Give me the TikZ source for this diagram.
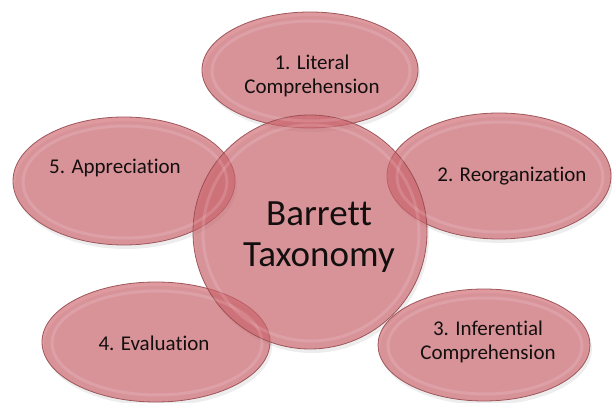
\documentclass[tikz,border=0pt]{standalone}
\usepackage{fontspec}
\setmainfont{Carlito}[Ligatures={NoCommon}]
\usetikzlibrary{shapes.geometric}
\definecolor{petal}{RGB}{205,100,108}
\definecolor{rim}{RGB}{150,75,80}
\definecolor{ink}{RGB}{20,15,15}
\tikzset{
  bubble/.style={ellipse, inner sep=0pt, fill=petal, fill opacity=0.65,
                 draw=rim, draw opacity=0.9, line width=0.8pt},
  gloss/.style={ellipse, inner sep=0pt, draw=white, draw opacity=0.13,
                line width=3pt},
  shade/.style={ellipse, inner sep=0pt, fill=black, fill opacity=0.07},
  small/.style={text=ink, align=center, font=\fontsize{21}{24}\selectfont},
  big/.style={text=ink, align=center, font=\fontsize{37}{41}\selectfont},
}
\begin{document}
\begin{tikzpicture}[x=1pt,y=1pt]
\useasboundingbox (0,0) rectangle (612,403);
\fill[white] (0,0) rectangle (612,403);

% soft drop shadows
\node[shade, minimum width=216, minimum height=116] at (312,329) {};
\node[shade, minimum width=224, minimum height=126] at (501,223) {};
\node[shade, minimum width=212, minimum height=112] at (486,54) {};
\node[shade, minimum width=228, minimum height=120] at (158,57) {};
\node[shade, minimum width=222, minimum height=128] at (126,218) {};
\node[shade, circle, minimum size=234] at (312,167) {};

% outer bubbles
\node[bubble, minimum width=216, minimum height=116] (e1) at (310,333) {};
\node[bubble, minimum width=224, minimum height=126] (e2) at (499,227) {};
\node[bubble, minimum width=212, minimum height=112] (e3) at (484,58) {};
\node[bubble, minimum width=228, minimum height=120] (e4) at (156,61) {};
\node[bubble, minimum width=222, minimum height=128] (e5) at (124,222) {};

% central bubble
\node[bubble, circle, minimum size=234] (c) at (310,171) {};

% glossy inner rims
\node[gloss, minimum width=198, minimum height=100] (g1) at (311,332) {};
\node[gloss, minimum width=206, minimum height=110] (g2) at (500,226) {};
\node[gloss, minimum width=194, minimum height=96] (g3) at (485,57) {};
\node[gloss, minimum width=210, minimum height=104] (g4) at (157,60) {};
\node[gloss, minimum width=204, minimum height=112] (g5) at (125,221) {};
\node[gloss, circle, minimum size=216] (gc) at (311,170) {};

% labels
\node[small] (t1) at (312,327) {1. Literal\\Comprehension};
\node[small] (t2) at (512,227) {2. Reorganization};
\node[small] (t3) at (488,61) {3. Inferential\\Comprehension};
\node[small] (t4) at (154,60) {4. Evaluation};
\node[small] (t5) at (115,235) {5. Appreciation};
\node[big] (tc) at (319,166) {Barrett\\Taxonomy};
\end{tikzpicture}
\end{document}
